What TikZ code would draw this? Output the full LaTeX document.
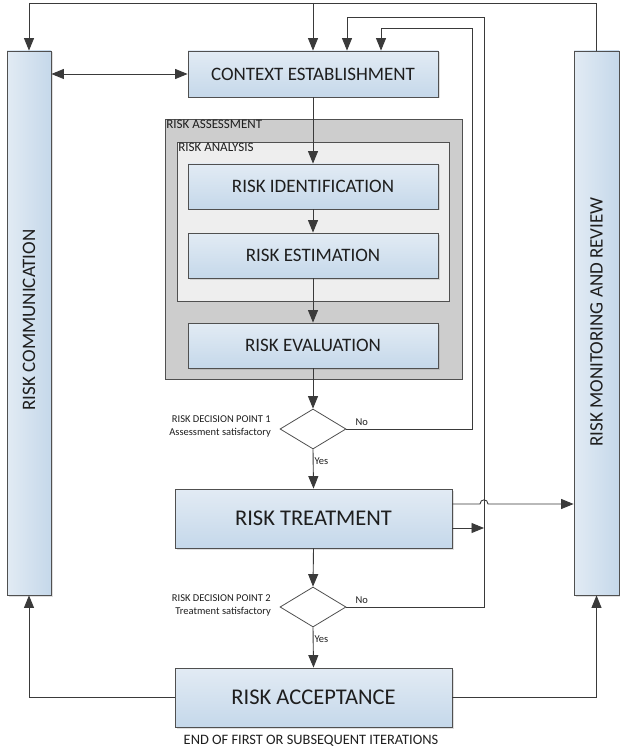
\documentclass[tikz,border=0pt]{standalone}
\usepackage{fontspec}
\setmainfont{Carlito}
\usetikzlibrary{arrows.meta,shapes.geometric,shadows}

\definecolor{linegray}{HTML}{3A3A3A}
\definecolor{boxedge}{HTML}{505050}
\definecolor{bluetop}{HTML}{E2EBF4}
\definecolor{bluebot}{HTML}{C5D8EA}
\definecolor{txt}{HTML}{1E1E1E}
\definecolor{assessfill}{HTML}{CDCDCD}
\definecolor{analysisfill}{HTML}{EEEEEE}

\tikzset{
  conn/.style={draw=linegray, line width=0.9pt},
  arr/.style={conn, -{Triangle[length=12.5pt,width=10pt]}},
  darr/.style={conn, {Triangle[length=12.5pt,width=10pt]}-{Triangle[length=12.5pt,width=10pt]}},
  bluebox/.style={draw=boxedge, line width=0.8pt, top color=bluetop, bottom color=bluebot,
    text=txt, inner sep=0pt, anchor=center,
    drop shadow={shadow xshift=1.5pt, shadow yshift=-1.5pt, opacity=0.25}},
  sidebox/.style={draw=boxedge, line width=0.8pt, left color=bluetop, right color=bluebot,
    inner sep=0pt, anchor=center,
    drop shadow={shadow xshift=1.5pt, shadow yshift=-1.5pt, opacity=0.25}},
  groupbox/.style={draw=boxedge, line width=0.8pt, inner sep=0pt, anchor=center},
  grouplabel/.style={font=\fontsize{13}{15}\selectfont, text=txt, anchor=north west, inner sep=1.5pt},
  decision/.style={diamond, draw=boxedge, line width=0.8pt, fill=white, inner sep=0pt,
    minimum width=66pt, minimum height=40pt, aspect=1.65},
  small/.style={font=\fontsize{10.5}{13}\selectfont, text=txt, inner sep=1pt},
  mid/.style={font=\fontsize{19}{22}\selectfont},
  side/.style={font=\fontsize{19}{22}\selectfont},
  big/.style={font=\fontsize{22.5}{26}\selectfont},
}

\begin{document}
\begin{tikzpicture}[x=1pt, y=-1pt]
  \useasboundingbox (0,0) rectangle (620,751);

  % side columns
  \node[sidebox, minimum width=44pt, minimum height=544pt] (comm) at (29,323) {};
  \node[rotate=90, side, text=txt] (commtext) at (29,320) {RISK COMMUNICATION};
  \node[sidebox, minimum width=45pt, minimum height=544pt] (mon) at (596.5,323) {};
  \node[rotate=90, side, text=txt] (montext) at (596.5,322) {RISK MONITORING AND REVIEW};

  % context
  \node[bluebox, mid, minimum width=250pt, minimum height=46pt] (ctx) at (313,74) {CONTEXT ESTABLISHMENT};

  % risk assessment group
  \node[groupbox, fill=assessfill, minimum width=297pt, minimum height=260pt] (assess) at (313.5,249) {};
  \node[grouplabel] (assesslbl) at (assess.north west) {RISK ASSESSMENT};
  \node[groupbox, fill=analysisfill, minimum width=272pt, minimum height=159pt] (analysis) at (313,221.5) {};
  \node[grouplabel] (analysislbl) at (analysis.north west) {RISK ANALYSIS};

  \node[bluebox, mid, minimum width=250pt, minimum height=45pt] (ident) at (313,186.5) {RISK IDENTIFICATION};
  \node[bluebox, mid, minimum width=250pt, minimum height=45pt] (estim) at (313,255.5) {RISK ESTIMATION};
  \node[bluebox, mid, minimum width=250pt, minimum height=45pt] (evalu) at (313,345.5) {RISK EVALUATION};

  % decisions and later stages
  \node[decision] (d1) at (313,429) {};
  \node[small, align=right, anchor=east] (d1lbl) at (272,426.5) {RISK DECISION POINT 1\\Assessment satisfactory};

  \node[bluebox, big, minimum width=277pt, minimum height=59pt] (treat) at (313.5,518.5) {RISK TREATMENT};

  \node[decision] (d2) at (313,607) {};
  \node[small, align=right, anchor=east] (d2lbl) at (272,605) {RISK DECISION POINT 2\\Treatment satisfactory};

  \node[bluebox, big, minimum width=277pt, minimum height=59pt] (accept) at (313.5,697.5) {RISK ACCEPTANCE};
  \node[small, font=\fontsize{14.4}{17}\selectfont] (endlbl) at (311,741) {END OF FIRST OR SUBSEQUENT ITERATIONS};

  % routing points
  \coordinate (tl) at (29,3);
  \coordinate (tc) at (313,3);
  \coordinate (tr) at (596.5,3);
  \coordinate (no1a) at (472,429);
  \coordinate (no1b) at (472,28);
  \coordinate (no1c) at (381,28);
  \coordinate (no2a) at (484,607);
  \coordinate (no2b) at (484,17);
  \coordinate (no2c) at (347,17);
  \coordinate (trA) at (452,504);
  \coordinate (jumpL) at (480,504);
  \coordinate (jumpR) at (488,504);
  \coordinate (trB) at (452,528);
  \coordinate (trBend) at (484,528);
  \coordinate (accL) at (29,697.5);
  \coordinate (accR) at (596.5,697.5);

  % top loop
  \draw[conn] (mon.north) -- (tr) -- (tl);
  \draw[arr] (tl) -- (comm.north);
  \draw[arr] (tc) -- (ctx.north);
  \draw[darr] (comm.east |- ctx.west) -- (ctx.west);

  % main flow
  \draw[arr] (ctx.south) -- (ident.north);
  \draw[arr] (ident.south) -- (estim.north);
  \draw[arr] (estim.south) -- (evalu.north);
  \draw[arr] (evalu.south) -- (d1.north);
  \draw[arr] (d1.south) -- node[small, anchor=west, pos=0.3] (yes1) {Yes} (treat.north);
  \draw[arr] (treat.south) -- (d2.north);
  \draw[arr] (d2.south) -- node[small, anchor=west, pos=0.3] (yes2) {Yes} (accept.north);

  % feedback loops
  \draw[arr] (d1.east) -- (no1a) -- (no1b) -- (no1c) -- (no1c |- ctx.north);
  \node[small, anchor=south west] (no1) at ([xshift=8pt,yshift=2pt]d1.east) {No};
  \draw[arr] (d2.east) -- (no2a) -- (no2b) -- (no2c) -- (no2c |- ctx.north);
  \node[small, anchor=south west] (no2) at ([xshift=8pt,yshift=2pt]d2.east) {No};

  % treatment outputs
  \draw[arr] (trA) -- (jumpL) .. controls (480,498.5) and (488,498.5) .. (jumpR) -- (mon.west |- trA);
  \draw[arr] (trB) -- (trBend);

  % acceptance outputs
  \draw[arr] (accept.west) -- (accL) -- (comm.south);
  \draw[arr] (accept.east) -- (accR) -- (mon.south);
\end{tikzpicture}
\end{document}
